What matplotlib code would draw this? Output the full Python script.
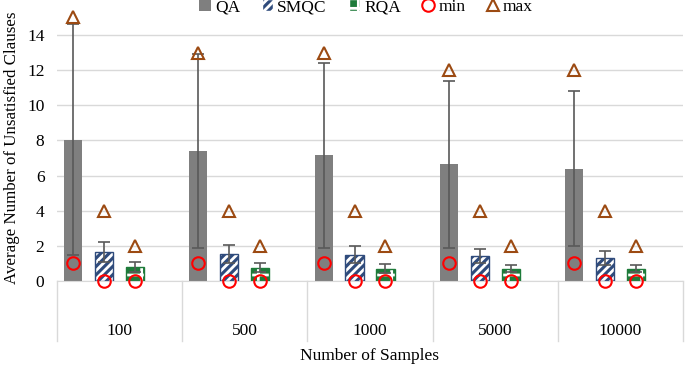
import matplotlib
matplotlib.use("Agg")
import matplotlib.pyplot as plt
from matplotlib.patches import Patch
from matplotlib.lines import Line2D
import numpy as np

plt.rcParams['font.family'] = ['Liberation Serif', 'DejaVu Serif']
plt.rcParams['hatch.linewidth'] = 2.0

# data
samples = ["100", "500", "1000", "5000", "10000"]
qa_mean = [8.05, 7.4, 7.15, 6.65, 6.4]
qa_err = [6.55, 5.5, 5.25, 4.75, 4.4]
smqc_mean = [1.65, 1.55, 1.5, 1.4, 1.3]
smqc_err = [0.55, 0.5, 0.5, 0.4, 0.4]
rqa_mean = [0.8, 0.75, 0.7, 0.7, 0.7]
rqa_err = [0.3, 0.25, 0.25, 0.2, 0.2]
min_qa = [1, 1, 1, 1, 1]
min_smqc = [0, 0, 0, 0, 0]
min_rqa = [0, 0, 0, 0, 0]
max_qa = [15, 13, 13, 12, 12]
max_smqc = [4, 4, 4, 4, 4]
max_rqa = [2, 2, 2, 2, 2]

gray = '#7F7F7F'
navy = '#2F4B7C'
green = '#1E7B3A'
err_col = '#595959'
red = '#FF0000'
brown = '#9C4A12'
fs = 12.5

# zero line at y=281px, 17.57 px per unit, top of axes at 15.5
ymax = 15.5
fig = plt.figure(figsize=(6.85, 3.67), dpi=100)
ax = fig.add_axes([57/685, 86/367, 626/685, ymax*17.57/367])

x = np.arange(len(samples))
off = 0.247
w = 0.145
ekw = dict(ecolor=err_col, elinewidth=1.2, capsize=4, capthick=1.2)

ax.bar(x - 1.5*off, qa_mean, w, color=gray, yerr=qa_err, error_kw=ekw, zorder=2)
ax.bar(x - 0.5*off, smqc_mean, w, color=navy, edgecolor='white', hatch='////', linewidth=0, zorder=2)
ax.bar(x - 0.5*off, smqc_mean, w, color='none', edgecolor=navy, linewidth=1, yerr=smqc_err, error_kw=ekw, zorder=3)
ax.bar(x + 0.5*off, rqa_mean, w, color=green, edgecolor='white', hatch='+', linewidth=0, zorder=2)
ax.bar(x + 0.5*off, rqa_mean, w, color='none', edgecolor=green, linewidth=1, yerr=rqa_err, error_kw=ekw, zorder=3)

mk = dict(markersize=9, markerfacecolor='none', markeredgewidth=1.5, linestyle='none', clip_on=False, zorder=5)
for dx, mn, mx in [(-1.5*off, min_qa, max_qa), (-0.5*off, min_smqc, max_smqc), (0.5*off, min_rqa, max_rqa)]:
    ax.plot(x + dx, mn, marker='o', markeredgecolor=red, **mk)
    ax.plot(x + dx, mx, marker='^', markeredgecolor=brown, **mk)

ax.set_xlim(-0.5, len(samples) - 0.5)
ax.set_ylim(0, ymax)
ax.set_yticks(range(0, 15, 2))
ax.yaxis.grid(True, color='#D9D9D9', linewidth=1)
ax.set_axisbelow(True)
for s in ['top', 'right', 'left']:
    ax.spines[s].set_visible(False)
ax.spines['bottom'].set_color('#D9D9D9')
ax.tick_params(axis='y', length=0, labelsize=fs, pad=9)
ax.set_xticks(x)
ax.set_xticklabels(samples)
ax.tick_params(axis='x', length=0, labelsize=fs, pad=30)

# category separators under the axis
for b in np.arange(-0.5, len(samples), 1):
    ax.plot([b, b], [0, -60/(ymax*17.57)], color='#D9D9D9', linewidth=1,
            transform=ax.get_xaxis_transform(), clip_on=False)

fig.text(12/685, (367-284)/367, 'Average Number of Unsatisfied Clauses', fontsize=12.2,
         rotation=90, ha='center', va='bottom')
ax.set_xlabel('Number of Samples', fontsize=fs, labelpad=7)

handles = [
    Patch(facecolor=gray, label='QA'),
    Patch(facecolor=navy, edgecolor='white', hatch='////', label='SMQC'),
    Patch(facecolor=green, edgecolor='white', hatch='+', label='RQA'),
    Line2D([], [], marker='o', color=red, markerfacecolor='none', markeredgewidth=1.5, linestyle='none', markersize=9, label='min'),
    Line2D([], [], marker='^', color=brown, markerfacecolor='none', markeredgewidth=1.5, linestyle='none', markersize=9, label='max'),
]
fig.legend(handles=handles, loc='upper center', bbox_to_anchor=(366/685, 1.035), ncol=5, frameon=False,
           fontsize=fs, handlelength=0.65, handleheight=0.65, handletextpad=0.25, columnspacing=1.25,
           borderpad=0.2)

fig.savefig('out.png', dpi=100)
